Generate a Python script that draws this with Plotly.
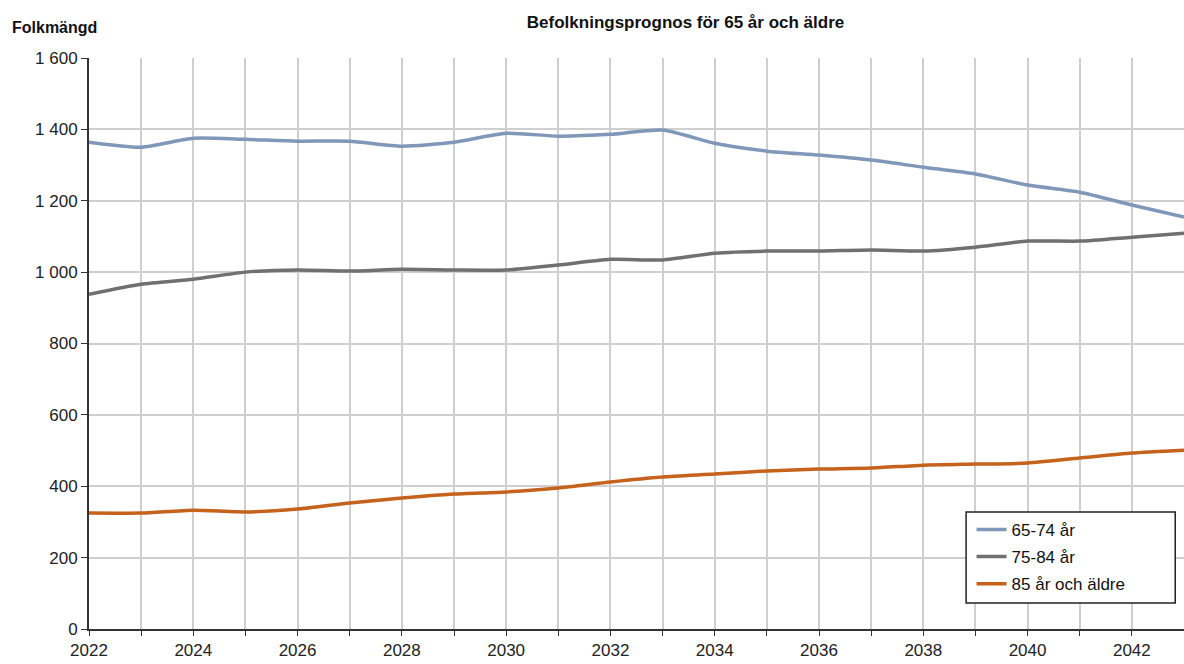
import plotly.graph_objects as go

years = list(range(2022, 2044))
age_65_74 = [1364, 1350, 1375, 1372, 1367, 1367, 1353, 1364, 1389, 1381, 1386,
             1398, 1361, 1339, 1328, 1314, 1294, 1275, 1244, 1224, 1188, 1154]
age_75_84 = [938, 966, 980, 1000, 1006, 1003, 1008, 1006, 1006, 1020, 1036,
             1034, 1053, 1059, 1059, 1062, 1059, 1070, 1087, 1087, 1098, 1109]
age_85_plus = [325, 325, 333, 328, 336, 353, 367, 378, 384, 395, 412,
               426, 434, 443, 448, 451, 459, 462, 465, 479, 493, 501]

series = [
    ("65-74 år", age_65_74, "#7f97b9"),
    ("75-84 år", age_75_84, "#707070"),
    ("85 år och äldre", age_85_plus, "#c5621c"),
]

fig = go.Figure()
for name, vals, color in series:
    fig.add_trace(go.Scatter(x=years, y=vals, name=name, mode="lines", legendgroup=name,
                             line=dict(color=color, width=3.5, shape="spline", smoothing=0.6)))

# legend frame drawn as a shape so it can be wider than the entries
fig.add_shape(type="rect", xref="paper", yref="paper",
              x0=0.801, x1=0.992, y0=0.0455, y1=0.205,
              fillcolor="white", line=dict(color="#222", width=1.5), layer="above")

fig.update_layout(
    width=1184, height=664,
    margin=dict(l=89, r=0, t=58, b=35, autoexpand=False),
    plot_bgcolor="white", paper_bgcolor="white",
    font=dict(family="Liberation Sans, Arial", size=17, color="#222"),
    separators=", ",
    title=dict(text="<b>Befolkningsprognos för 65 år och äldre</b>",
               x=0.579, xanchor="center", y=0.967, yanchor="middle",
               font=dict(size=17, color="#111")),
    showlegend=True,
    legend=dict(x=0.806, y=0.205, xanchor="left", yanchor="top",
                bgcolor="rgba(0,0,0,0)", borderwidth=0,
                font=dict(size=17, color="#111"), tracegroupgap=2),
    annotations=[dict(text="<b>Folkmängd</b>", xref="paper", yref="paper",
                      x=-0.072, y=1.054, xanchor="left", yanchor="middle",
                      showarrow=False, font=dict(size=16, color="#111"))],
)

fig.update_xaxes(
    range=[2022, 2043], tickvals=years, automargin=False,
    ticktext=[str(y) if y % 2 == 0 else "" for y in years],
    showgrid=True, gridcolor="#cfcfcf", gridwidth=1.5,
    showline=True, linecolor="#333", linewidth=2,
    ticks="outside", ticklen=5, tickcolor="#333", zeroline=False,
)
fig.update_yaxes(
    range=[0, 1600], dtick=200, tickformat=",d", automargin=False,
    showgrid=True, gridcolor="#cfcfcf", gridwidth=1.5,
    showline=True, linecolor="#333", linewidth=2,
    ticks="outside", ticklen=6, tickcolor="#333", zeroline=False,
)

fig.write_html("out.html", config={"displayModeBar": False},
               post_script="document.body.style.margin='0';document.body.style.overflow='hidden';")
